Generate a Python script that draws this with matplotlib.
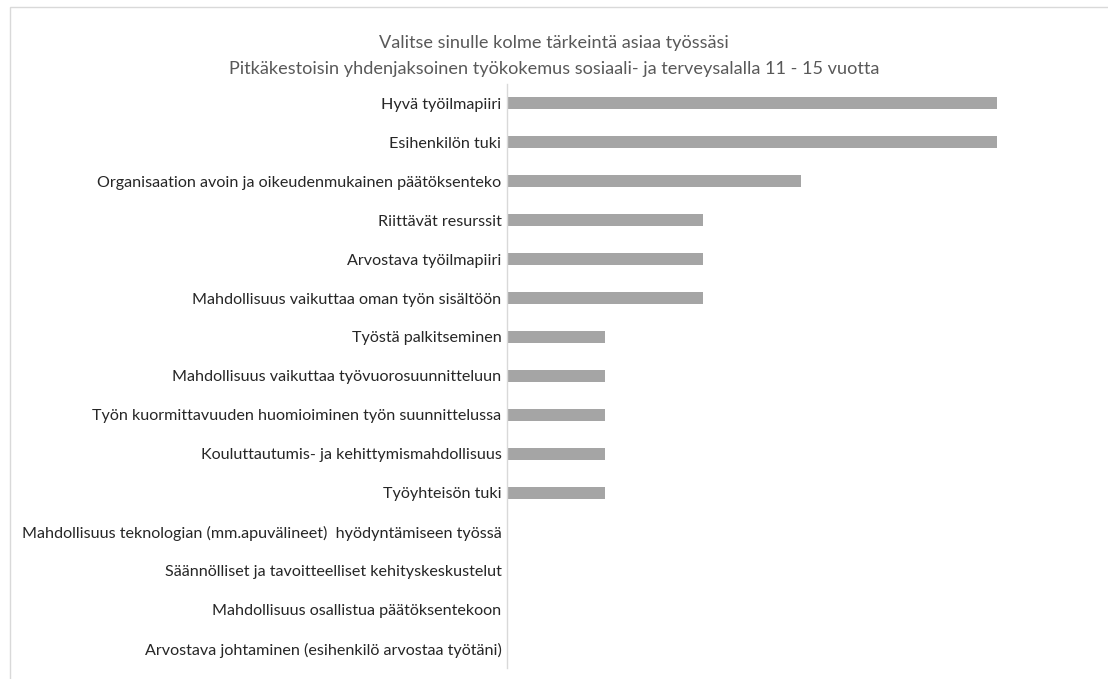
import matplotlib
matplotlib.use("Agg")
import matplotlib.pyplot as plt
from matplotlib.patches import Rectangle

TITLE = "Valitse sinulle kolme tärkeintä asiaa työssäsi\nPitkäkestoisin yhdenjaksoinen työkokemus sosiaali- ja terveysalalla 11 - 15 vuotta"

categories = [
    "Hyvä työilmapiiri",
    "Esihenkilön tuki",
    "Organisaation avoin ja oikeudenmukainen päätöksenteko",
    "Riittävät resurssit",
    "Arvostava työilmapiiri",
    "Mahdollisuus vaikuttaa oman työn sisältöön",
    "Työstä palkitseminen",
    "Mahdollisuus vaikuttaa työvuorosuunnitteluun",
    "Työn kuormittavuuden huomioiminen työn suunnittelussa",
    "Kouluttautumis- ja kehittymismahdollisuus",
    "Työyhteisön tuki",
    "Mahdollisuus teknologian (mm.apuvälineet)  hyödyntämiseen työssä",
    "Säännölliset ja tavoitteelliset kehityskeskustelut",
    "Mahdollisuus osallistua päätöksentekoon",
    "Arvostava johtaminen (esihenkilö arvostaa työtäni)",
]
values = [5, 5, 3, 2, 2, 2, 1, 1, 1, 1, 1, 0, 0, 0, 0]

plt.rcParams["font.family"] = ["Lato", "DejaVu Sans"]

fig = plt.figure(figsize=(11.08, 6.79), dpi=100)

# light chart-area border
fig.patches.append(Rectangle((0.009, -0.01), 1.2, 0.999, transform=fig.transFigure,
                             fill=False, edgecolor="#d9d9d9", linewidth=1.0))

ax = fig.add_axes([0.4576, 0.0155, 0.4424, 0.8615])
y = list(range(len(categories)))
ax.barh(y, values, height=0.31, color="#a5a5a5")
ax.set_ylim(len(categories) - 0.5, -0.5)
ax.set_xlim(0, 5)

ax.set_yticks(y)
ax.set_yticklabels(categories, fontsize=11.6, color="#262626")
ax.tick_params(axis="y", length=0, pad=4)
ax.set_xticks([])
for side in ("top", "right", "bottom"):
    ax.spines[side].set_visible(False)
ax.spines["left"].set_color("#d9d9d9")
ax.spines["left"].set_linewidth(1.0)

fig.text(0.5, 0.917, TITLE, ha="center", va="center", fontsize=13.1,
         color="#595959", linespacing=1.75)

fig.savefig("out.png", dpi=100)
